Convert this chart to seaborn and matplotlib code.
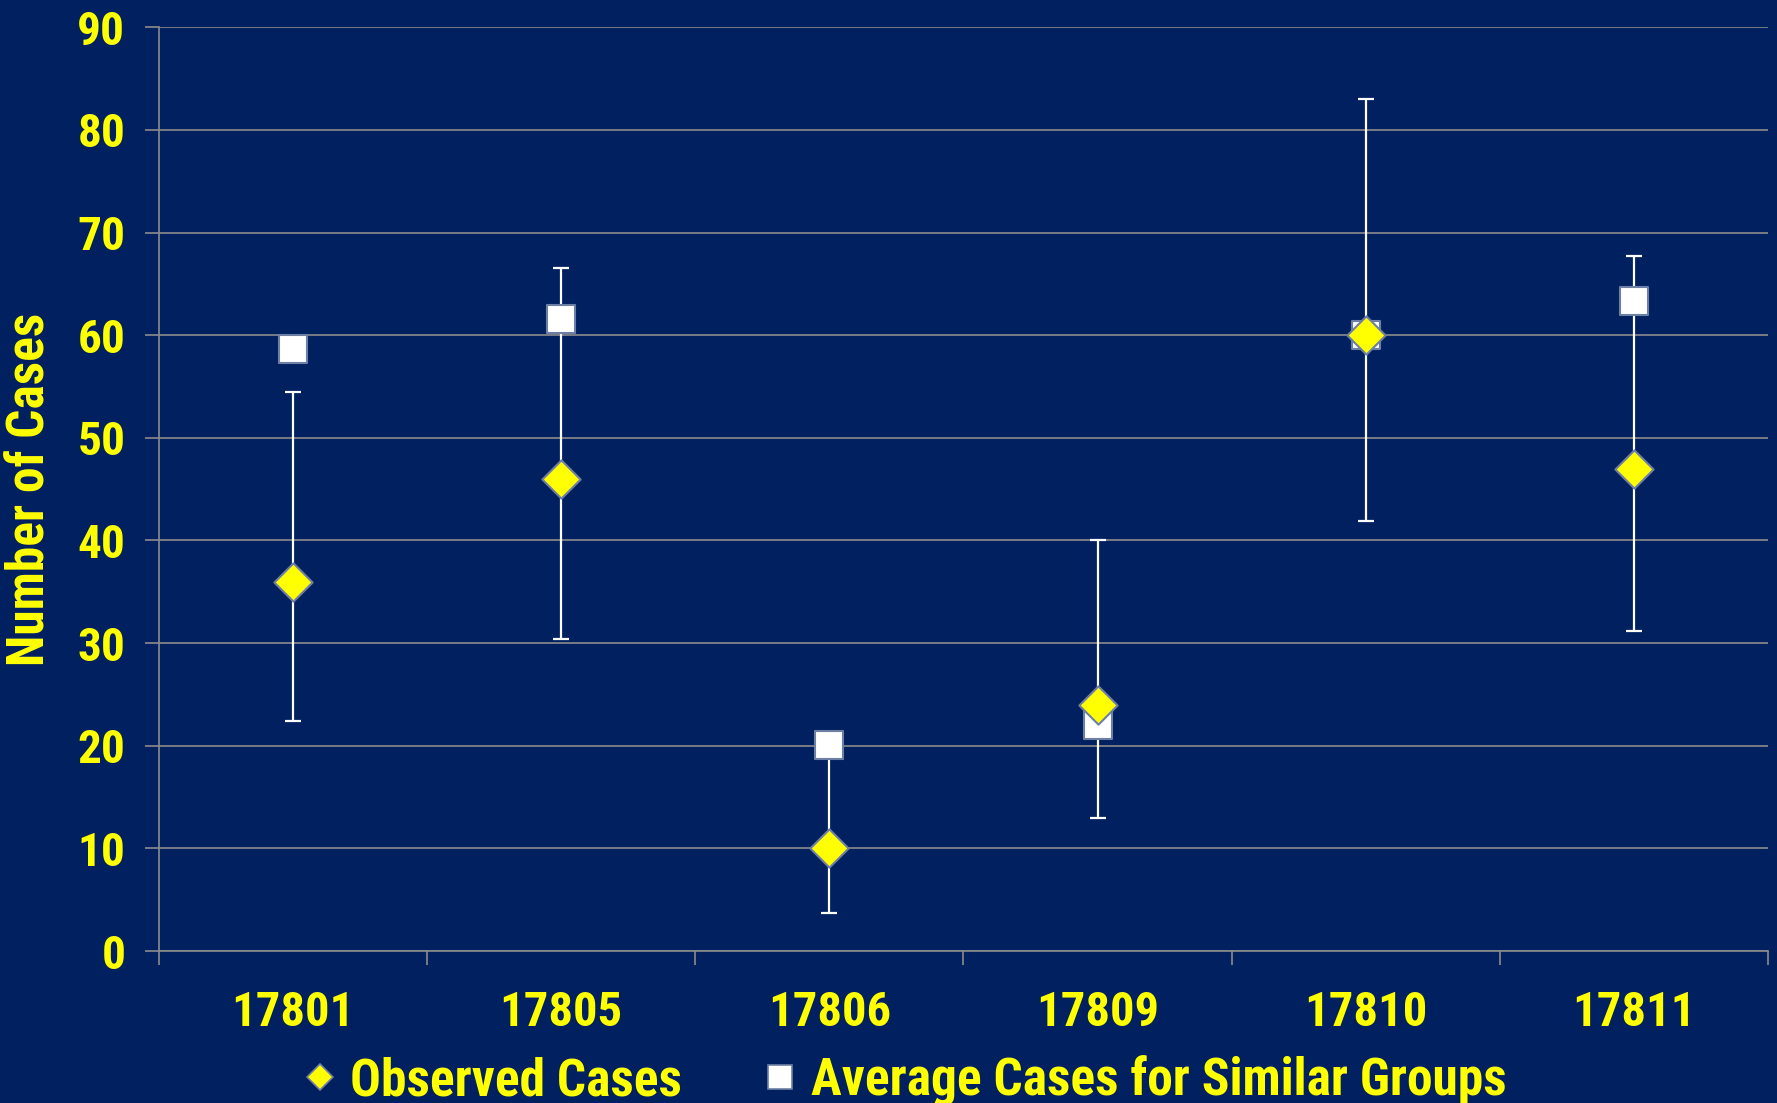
import numpy as np
import pandas as pd
import matplotlib
matplotlib.use("Agg")
import matplotlib.pyplot as plt
import seaborn as sns
from matplotlib.lines import Line2D
from matplotlib import font_manager as fm

# Data
zip_codes = ["17801", "17805", "17806", "17809", "17810", "17811"]
observed = [36, 46, 10, 24, 60, 47]
average_similar = [58.7, 61.6, 20.1, 22.0, 60.0, 63.3]
ci_low = [22.4, 30.4, 3.7, 13.0, 41.9, 31.2]
ci_high = [54.5, 66.5, 21.0, 40.0, 83.0, 67.7]
y_ticks = [0, 10, 20, 30, 40, 50, 60, 70, 80, 90]

bg = "#002060"
yellow = "#FFFF00"
grid_gray = "#8C8C8C"
edge = "#6E7FA5"

sns.set_theme(style="dark")
plt.rcParams['font.family'] = ['Liberation Sans', 'DejaVu Sans']
plt.rcParams['font.weight'] = 'bold'

# look for a narrow bold face (the original text is condensed)
narrow_path = None
for want in ["Liberation Sans Narrow", "Arial Narrow", "Roboto Condensed", "DejaVu Sans Condensed",
             "Open Sans Condensed", "Noto Sans Condensed"]:
    for f in fm.fontManager.ttflist:
        if f.name == want and f.style == "normal" and f.weight in (700, "bold"):
            narrow_path = f.fname
            break
    if narrow_path:
        break
if narrow_path is None:
    for f in fm.fontManager.ttflist:
        if f.stretch in ("condensed", "semi-condensed") and f.style == "normal" and f.weight in (700, "bold"):
            narrow_path = f.fname
            break

if narrow_path:
    scale = 1.0
    def fp(size):
        return fm.FontProperties(fname=narrow_path, size=size)
else:
    scale = 0.87
    def fp(size):
        return fm.FontProperties(family=['Liberation Sans', 'DejaVu Sans'], weight='bold', size=size)

df = pd.DataFrame({"zip": zip_codes, "observed": observed, "average": average_similar})
pos = np.arange(len(zip_codes))
df["pos"] = pos

fig = plt.figure(figsize=(17.77, 11.03), dpi=100, facecolor=bg)
ax = fig.add_axes([0.0893, 0.1378, 0.9057, 0.8375])
ax.set_facecolor(bg)

# error bars (around observed)
yerr = np.array([np.array(observed) - np.array(ci_low), np.array(ci_high) - np.array(observed)])
ax.errorbar(pos, observed, yerr=yerr, fmt="none", ecolor="white", elinewidth=1.6,
            capsize=6, capthick=1.6, zorder=3)

sns.scatterplot(data=df, x="pos", y="average", marker="s", s=400, color="white",
                edgecolor=edge, linewidth=1.5, ax=ax, zorder=4, legend=False)
sns.scatterplot(data=df, x="pos", y="observed", marker="D", s=380, color=yellow,
                edgecolor=edge, linewidth=1.5, ax=ax, zorder=5, legend=False)

ax.set_xlim(-0.5, len(zip_codes) - 0.5)
ax.set_ylim(0, 90)
ax.set_yticks(y_ticks)
ax.set_yticklabels([str(t) for t in y_ticks], fontproperties=fp(34 * scale), color=yellow)
ax.set_xticks(pos)
ax.set_xticklabels(zip_codes, fontproperties=fp(35 * scale), color=yellow)
ax.set_xticks(np.arange(-0.5, len(zip_codes)), minor=True)

ax.grid(False)
ax.yaxis.grid(True, color=grid_gray, linewidth=1.2)
ax.set_axisbelow(True)

for s in ["top", "right"]:
    ax.spines[s].set_visible(False)
for s in ["left", "bottom"]:
    ax.spines[s].set_visible(True)
    ax.spines[s].set_color(grid_gray)
    ax.spines[s].set_linewidth(1.2)

ax.tick_params(axis="x", which="major", length=0, pad=28)
ax.tick_params(axis="x", which="minor", length=10, width=1.2, color=grid_gray, direction="out", bottom=True)
ax.tick_params(axis="y", which="major", length=10, width=1.2, color=grid_gray, direction="out",
               left=True, pad=14)

ax.set_xlabel("")
ax.set_ylabel("Number of Cases", fontproperties=fp(37 * scale), color=yellow)
ax.yaxis.set_label_coords(-0.064, 0.5)

handles = [
    Line2D([], [], marker="D", linestyle="none", markersize=13, markerfacecolor=yellow,
           markeredgecolor=edge, markeredgewidth=1.2),
    Line2D([], [], marker="s", linestyle="none", markersize=17, markerfacecolor="white",
           markeredgecolor=edge, markeredgewidth=1.2),
]
leg = fig.legend(handles, ["Observed Cases", "Average Cases for Similar Groups"],
                 loc="center", bbox_to_anchor=(0.508, 0.02), ncol=2, frameon=False,
                 prop=fp(37 * scale), handlelength=0.8, handletextpad=0.2, columnspacing=1.5,
                 borderaxespad=0, borderpad=0)
for t in leg.get_texts():
    t.set_color(yellow)

fig.savefig("out.png", dpi=100, facecolor=bg)
